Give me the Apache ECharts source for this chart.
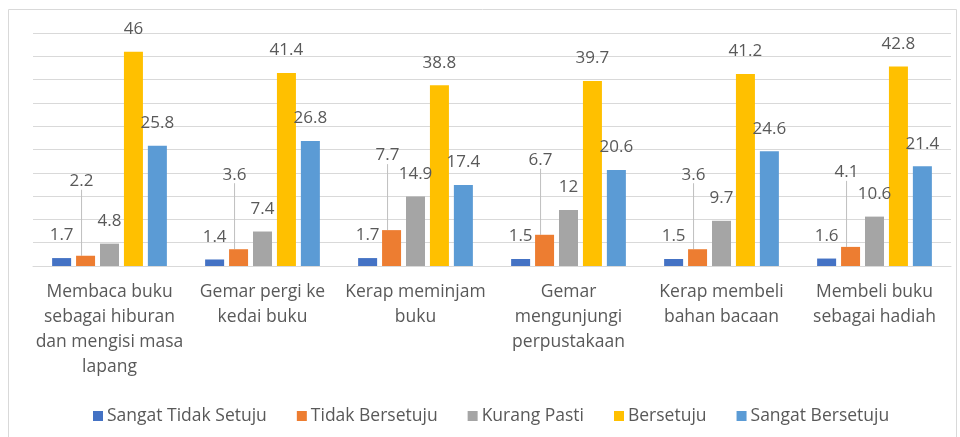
<!DOCTYPE html>
<html>
<head>
<meta charset="utf-8">
<script src="https://cdn.jsdelivr.net/npm/echarts@6/dist/echarts.min.js"></script>
<style>
  html, body { margin: 0; padding: 0; background: #fff; }
  #chart { width: 960px; height: 437px; }
</style>
</head>
<body>
<div id="chart"></div>
<script>
// categories (line breaks as in the original labels)
const categories = [
  "Membaca buku\nsebagai hiburan\ndan mengisi masa\nlapang",
  "Gemar pergi ke\nkedai buku",
  "Kerap meminjam\nbuku",
  "Gemar\nmengunjungi\nperpustakaan",
  "Kerap membeli\nbahan bacaan",
  "Membeli buku\nsebagai hadiah"
]
const seriesNames = ["Sangat Tidak Setuju", "Tidak Bersetuju", "Kurang Pasti", "Bersetuju", "Sangat Bersetuju"]
const sangatTidakSetuju = [1.7, 1.4, 1.7, 1.5, 1.5, 1.6]
const tidakBersetuju = [2.2, 3.6, 7.7, 6.7, 3.6, 4.1]
const kurangPasti = [4.8, 7.4, 14.9, 12, 9.7, 10.6]
const bersetuju = [46, 41.4, 38.8, 39.7, 41.2, 42.8]
const sangatBersetuju = [25.8, 26.8, 17.4, 20.6, 24.6, 21.4]
const colors = ["#4472C4", "#ED7D31", "#A5A5A5", "#FFC000", "#5B9BD5"]

const font = "'Open Sans', sans-serif"
const textColor = "#595959"

const chart = echarts.init(document.getElementById("chart"))

const valueLabel = {
  show: true,
  position: "top",
  distance: 14,
  color: textColor,
  fontFamily: font,
  fontSize: 17,
}

function makeSeries(name, data, i) {
  const s = {
    name: name,
    type: "bar",
    data: data,
    barGap: "26%",
    barCategoryGap: "25%",
    itemStyle: { color: colors[i] },
    label: valueLabel,
  }
  if (i === 1) {
    // Tidak Bersetuju labels are lifted up with a leader line
    s.labelLayout = { dy: -52, dx: -4 }
    s.labelLine = { show: true, lineStyle: { color: "#bfbfbf", width: 1 } }
  }
  return s
}

const allData = [sangatTidakSetuju, tidakBersetuju, kurangPasti, bersetuju, sangatBersetuju]

const option = {
  animation: false,
  color: colors,
  graphic: [
    {
      type: "rect",
      shape: { x: 8.5, y: 9.5, width: 948, height: 440 },
      style: { fill: "none", stroke: "#d9d9d9", lineWidth: 1 },
      silent: true,
      z: -1,
    },
  ],
  grid: {
    left: 33,
    right: 9,
    top: 33,
    bottom: 171,
  },
  legend: {
    data: seriesNames,
    top: 402,
    left: 88,
    icon: "rect",
    itemWidth: 10,
    itemHeight: 10,
    itemGap: 30,
    textStyle: { color: textColor, fontFamily: font, fontSize: 17.5, padding: [0, 0, 0, -1] },
  },
  xAxis: {
    type: "category",
    data: categories,
    axisLine: { show: true, lineStyle: { color: "#d9d9d9" } },
    axisTick: { show: false },
    axisLabel: {
      interval: 0,
      margin: 14,
      color: textColor,
      fontFamily: font,
      fontSize: 17.5,
      lineHeight: 25,
    },
  },
  yAxis: {
    type: "value",
    min: 0,
    max: 50,
    interval: 5,
    axisLabel: { show: false },
    axisLine: { show: false },
    axisTick: { show: false },
    splitLine: { lineStyle: { color: "#d9d9d9", width: 1 } },
  },
  series: seriesNames.map((n, i) => makeSeries(n, allData[i], i)),
}

chart.setOption(option, true)
</script>
</body>
</html>
